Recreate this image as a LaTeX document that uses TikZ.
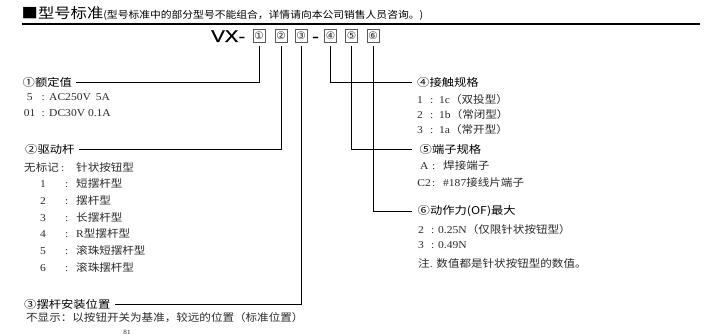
\documentclass[tikz,border=0pt]{standalone}
\usepackage{fontspec}
\usetikzlibrary{calc}
\setmainfont{Liberation Serif}
\newfontfamily\hcjk[FakeStretch=1.15]{Noto Sans CJK SC}
\newfontfamily\scjk[FakeStretch=1.1]{Noto Sans CJK SC}
\newfontfamily\latf[FakeStretch=1.1]{Liberation Serif}
\newfontfamily\vxf[FakeStretch=1.2,FakeBold=0.6]{Liberation Sans}
\newfontfamily\circf{DejaVu Sans}
\newcommand\cj[1]{{\scjk #1}}
\definecolor{subc}{HTML}{2A2A2A}
\tikzset{
  hd/.style={anchor=west, inner sep=0pt, font=\hcjk\fontsize{10.7}{12}\selectfont, text=black},
  itm/.style={anchor=west, inner sep=0pt, font=\latf\fontsize{10.5}{12}\selectfont, text=subc},
  cbox/.style={draw=black!65, line width=0.6pt, fill=white, minimum width=12pt, minimum height=13pt, inner sep=0pt, font=\circf\fontsize{10.5}{11}\selectfont, text=black!85},
  conn/.style={line width=0.8pt, shorten >=4pt},
  codef/.style={inner sep=0pt, font=\vxf\fontsize{17}{18}\selectfont},
}
\begin{document}
\begin{tikzpicture}[x=1pt,y=-1pt]
\useasboundingbox (0,0) rectangle (718,336);
% title
\node[anchor=west, inner sep=0pt] (title) at (21.5,14)
  {{\hcjk\fontsize{14.2}{16}\selectfont ■型号标准}{\scjk\fontsize{9.8}{11}\selectfont (型号标准中的部分型号不能组合，详情请向本公司销售人员咨询。)}};
\draw[line width=1.2pt] (22,24) -- (700,24);
% code
\node[codef, anchor=base west] (vx) at (211,42) {VX-};
\node[codef, anchor=base] (dash) at (315.5,42) {-};
\node[cbox] (b1) at (259,36) {①};
\node[cbox] (b2) at (281,36) {②};
\node[cbox] (b3) at (301,36) {③};
\node[cbox] (b4) at (330.5,36) {④};
\node[cbox] (b5) at (351.5,36) {⑤};
\node[cbox] (b6) at (373,36) {⑥};
% headings
\node[hd] (h1) at (22.5,82) {①额定值};
\node[hd] (h2) at (25,149.5) {②驱动杆};
\node[hd] (h3) at (24,304) {③摆杆安装位置};
\node[hd] (h4) at (417,82) {④接触规格};
\node[hd] (h5) at (419.5,149.5) {⑤端子规格};
\node[hd] (h6) at (417.5,211) {⑥动作力(OF)最大};
% connectors
\draw[conn] ($(b1.south)+(0,3)$) |- (h1.east);
\draw[conn] ($(b2.south)+(0,3)$) |- (h2.east);
\draw[conn] ($(b3.south)+(0,3)$) |- (h3.east);
\draw[conn, shorten >=5pt] ($(b4.south)+(0,3)$) |- (h4.west);
\draw[conn, shorten >=7.5pt] ($(b5.south)+(0,3)$) |- (h5.west);
\draw[conn, shorten >=5.5pt] ($(b6.south)+(0,3)$) |- (h6.west);
% items 1
\node[itm] (r1a) at (22,97.5) {\makebox[15pt][c]{5}\makebox[12pt][c]{:}AC250V\hspace{5pt}5A};
\node[itm] (r1b) at (22,112.7) {\makebox[15pt][c]{01}\makebox[12pt][c]{:}DC30V 0.1A};
% items 2
\node[itm] (r2a) at (24,167) {\makebox[37pt][l]{\cj{无标记}}\makebox[15pt][l]{:}\cj{针状按钮型}};
\node[itm] (r2b) at (40,183.7) {\makebox[25pt][l]{1}\makebox[11pt][l]{:}\cj{短摆杆型}};
\node[itm] (r2c) at (40,200.4) {\makebox[25pt][l]{2}\makebox[11pt][l]{:}\cj{摆杆型}};
\node[itm] (r2d) at (40,217.1) {\makebox[25pt][l]{3}\makebox[11pt][l]{:}\cj{长摆杆型}};
\node[itm] (r2e) at (40,233.8) {\makebox[25pt][l]{4}\makebox[11pt][l]{:}R\cj{型摆杆型}};
\node[itm] (r2f) at (40,250.5) {\makebox[25pt][l]{5}\makebox[11pt][l]{:}\cj{滚珠短摆杆型}};
\node[itm] (r2g) at (40,267) {\makebox[25pt][l]{6}\makebox[11pt][l]{:}\cj{滚珠摆杆型}};
% items 3
\node[itm] (r3) at (26,317.5) {\cj{不显示：以按钮开关为基准，较远的位置（标准位置）}};
% items 4
\node[itm] (r4a) at (417,99.3) {\makebox[13pt][l]{1}\makebox[9pt][l]{:}1c\cj{（双投型）}};
\node[itm] (r4b) at (417,114.3) {\makebox[13pt][l]{2}\makebox[9pt][l]{:}1b\cj{（常闭型）}};
\node[itm] (r4c) at (417,129.3) {\makebox[13pt][l]{3}\makebox[9pt][l]{:}1a\cj{（常开型）}};
% items 5
\node[itm] (r5a) at (416,166) {\makebox[16pt][c]{A}\makebox[11pt][l]{:}\cj{焊接端子}};
\node[itm] (r5b) at (416,182.3) {\makebox[16pt][c]{C2}\makebox[11pt][l]{:}\#187\cj{接线片端子}};
% items 6
\node[itm] (r6a) at (418,229.3) {\makebox[13pt][l]{2}\makebox[7pt][l]{:}0.25N\cj{（仅限针状按钮型）}};
\node[itm] (r6b) at (418,245) {\makebox[13pt][l]{3}\makebox[7pt][l]{:}0.49N};
\node[itm] (r6c) at (418,263.3) {\cj{注}. \cj{数值都是针状按钮型的数值。}};
% page number
\node[inner sep=0pt, anchor=base, font=\latf\fontsize{6.5}{7}\selectfont, text=subc] (pg) at (127,335) {81};
\end{tikzpicture}
\end{document}
